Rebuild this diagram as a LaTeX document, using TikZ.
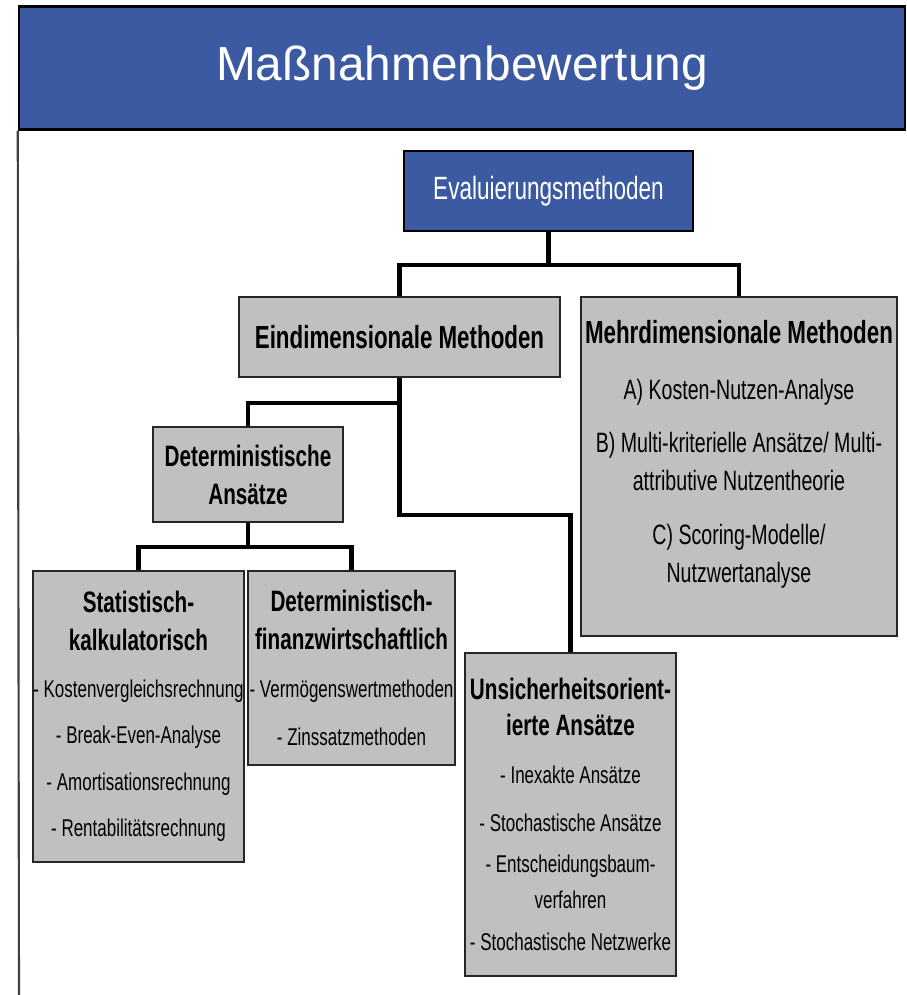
\documentclass[tikz,border=0pt]{standalone}
\usepackage{fontspec}
\setmainfont{Liberation Sans}
\newfontfamily\narrowfont[FakeStretch=0.7]{Liberation Sans}
\definecolor{titleblue}{RGB}{60,90,162}
\definecolor{boxgray}{RGB}{192,192,192}
\newcommand{\headfont}{\fontsize{22.7}{27}\selectfont\bfseries}
\newcommand{\subheadfont}{\fontsize{21}{27}\selectfont\bfseries}

\begin{document}
\begin{tikzpicture}[
  x=0.025cm, y=-0.025cm,
  box/.style={
    draw=black!85, line width=1pt, fill=boxgray, align=center, inner sep=0pt,
    font=\narrowfont\fontsize{17.25}{27}\selectfont,
  },
  bluebox/.style={box, fill=titleblue, draw=black, text=white},
  conn/.style={line width=3pt},
]
\useasboundingbox (0,0) rectangle (907,995);

% Header and frame
\node[bluebox, line width=1.6pt, minimum width=22.15cm, minimum height=3.075cm,
  font=\fontsize{34}{40}\selectfont] (title) at (462,68) {Maßnahmenbewertung};
\coordinate (frameend) at (19,995);
\draw[line width=1.5pt, black!75] (title.south west) -- (frameend);

% Top levels
\node[bluebox, minimum width=7.225cm, minimum height=2cm,
  font=\narrowfont\fontsize{22.9}{27}\selectfont] (eval) at (548.5,191) {Evaluierungsmethoden};
\node[box, minimum width=8.025cm, minimum height=2cm] (eind) at (399.5,337)
  {\headfont Eindimensionale Methoden};
\node[box, minimum width=7.9cm, minimum height=8.475cm,
  font=\narrowfont\fontsize{19.9}{27}\selectfont] (mehr) at (739,466.5)
  {\headfont Mehrdimensionale Methoden\\[13pt]
   A) Kosten-Nutzen-Analyse\\[10.7pt]
   B) Multi-kriterielle Ansätze/ Multi-\\
   attributive Nutzentheorie\\[11.4pt]
   C) Scoring-Modelle/\\
   Nutzwertanalyse\\[-6pt] {}};

% Eindimensionale Methoden, left branch
\node[box, minimum width=4.75cm, minimum height=2.375cm] (det) at (248,474.5)
  {\subheadfont Deterministische\\ \subheadfont Ansätze};
\node[box, minimum width=5.275cm, minimum height=7.275cm] (stat) at (138.5,716.5)
  {\subheadfont Statistisch-\\ \subheadfont kalkulatorisch\\[6pt]
   - Kostenvergleichsrechnung\\[6pt]
   - Break-Even-Analyse\\[6pt]
   - Amortisationsrechnung\\[6pt]
   - Rentabilitätsrechnung};
\node[box, minimum width=5.175cm, minimum height=4.85cm] (fin) at (351.5,668)
  {\subheadfont Deterministisch-\\ \subheadfont finanzwirtschaftlich\\[7pt]
   - Vermögenswertmethoden\\[7pt]
   - Zinssatzmethoden};

% Eindimensionale Methoden, right branch
\node[box, minimum width=5.275cm, minimum height=8.075cm,
  font=\narrowfont\fontsize{17.25}{25.6}\selectfont] (uns) at (570.5,814.5)
  {\subheadfont Unsicherheitsorient-\\ \subheadfont ierte Ansätze\\[8.5pt]
   - Inexakte Ansätze\\[9pt]
   - Stochastische Ansätze\\[3.5pt]
   - Entscheidungsbaum-\\
   verfahren\\[4.3pt]
   - Stochastische Netzwerke};

% Tree connectors
\draw[conn] (eval.south) -- ++(0,33) -| (eind.north);
\draw[conn] (eval.south) -- ++(0,33) -| (mehr.north);
\draw[conn] (eind.south) -- ++(0,25) -| (det.north);
\draw[conn] (eind.south) -- ++(0,137) -| (uns.north);
\draw[conn] (det.south) -- ++(0,24) -| (stat.north);
\draw[conn] (det.south) -- ++(0,24) -| (fin.north);

\end{tikzpicture}
\end{document}
